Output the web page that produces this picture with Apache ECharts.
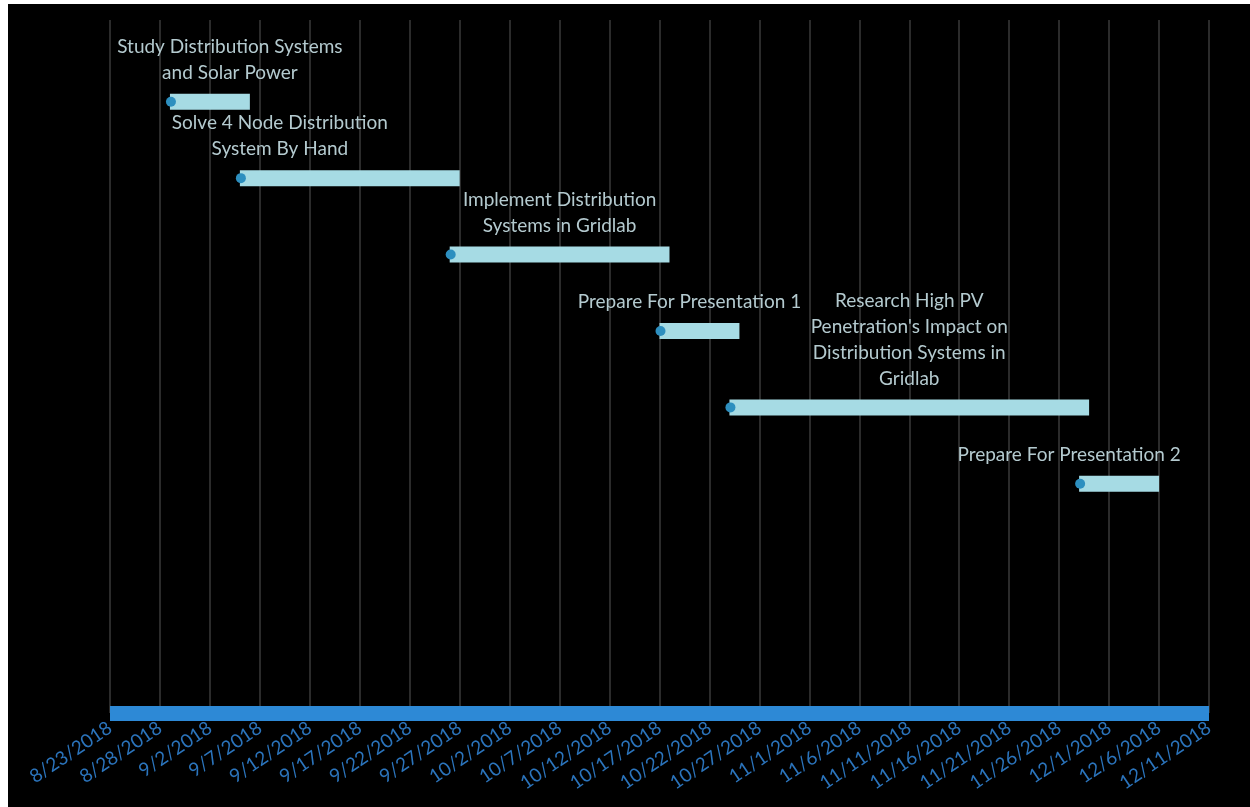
<!DOCTYPE html>
<html>
<head>
<meta charset="utf-8">
<script src="https://cdn.jsdelivr.net/npm/echarts@6/dist/echarts.min.js"></script>
<style>
  html, body { margin: 0; padding: 0; background: #ffffff; }
  #chart { position: absolute; left: 8px; top: 4px; width: 1242px; height: 803px; background: #000000; }
</style>
</head>
<body>
<div id="chart"></div>
<script>
// ---- data ----
const axisStart = '2018-08-23';
const axisEnd = '2018-12-11';
const tickStepDays = 5;
const taskNames = [
  'Study Distribution Systems\nand Solar Power',
  'Solve 4 Node Distribution\nSystem By Hand',
  'Implement Distribution\nSystems in Gridlab',
  'Prepare For Presentation 1',
  "Research High PV\nPenetration's Impact on\nDistribution Systems in\nGridlab",
  'Prepare For Presentation 2'
];
const taskStart = ['2018-08-29', '2018-09-05', '2018-09-26', '2018-10-17', '2018-10-24', '2018-11-28'];
const taskEnd   = ['2018-09-06', '2018-09-27', '2018-10-18', '2018-10-25', '2018-11-29', '2018-12-06'];
const taskLevel = [8, 7, 6, 5, 4, 3];
const labelAnchorDate = ['2018-09-04', '2018-09-09', '2018-10-07', '2018-10-20', '2018-11-11', '2018-11-27'];

// ---- helpers ----
const DAY = 86400000;
const base = Date.parse(axisStart + 'T00:00:00Z');
function dayOffset(s) { return Math.round((Date.parse(s + 'T00:00:00Z') - base) / DAY); }
function fmtDay(d) {
  const dt = new Date(base + d * DAY);
  return (dt.getUTCMonth() + 1) + '/' + dt.getUTCDate() + '/' + dt.getUTCFullYear();
}
const axisMax = dayOffset(axisEnd);

const seriesData = taskNames.map((n, i) => [
  dayOffset(taskStart[i]), dayOffset(taskEnd[i]), taskLevel[i], dayOffset(labelAnchorDate[i]), i
]);

const chart = echarts.init(document.getElementById('chart'));
chart.setOption({
  backgroundColor: '#000000',
  animation: false,
  grid: { left: 102, right: 41, top: 16, bottom: 94 },
  xAxis: {
    type: 'value',
    min: 0,
    max: axisMax,
    interval: tickStepDays,
    axisLine: { show: true, onZero: false, lineStyle: { color: '#2d89d6', width: 15, cap: 'butt' } },
    axisTick: { show: false },
    splitLine: { show: true, lineStyle: { color: '#3a3a3a', width: 1.5 } },
    axisLabel: {
      rotate: 34,
      margin: 13,
      color: '#2b74bc',
      fontFamily: 'Lato',
      fontSize: 19,
      formatter: v => fmtDay(v)
    }
  },
  yAxis: {
    type: 'value',
    min: 0,
    max: 9.07,
    show: false,
    splitLine: { show: false }
  },
  series: [{
    type: 'custom',
    data: seriesData,
    encode: { x: [0, 1, 3], y: 2 },
    renderItem: function (params, api) {
      const s = api.coord([api.value(0), api.value(2)]);
      const e = api.coord([api.value(1), api.value(2)]);
      const a = api.coord([api.value(3), api.value(2)]);
      const idx = api.value(4);
      return {
        type: 'group',
        children: [
          { type: 'rect', shape: { x: s[0], y: s[1] - 8, width: e[0] - s[0], height: 16 },
            style: { fill: '#a6dbe4' } },
          { type: 'circle', shape: { cx: s[0] + 1, cy: s[1], r: 5 },
            style: { fill: '#2d8fbf' } },
          { type: 'text',
            style: { text: taskNames[idx], x: a[0], y: s[1] - 16, align: 'center', verticalAlign: 'bottom',
                     fill: '#b4cacf', fontFamily: 'Lato', fontSize: 19, lineHeight: 26 } }
        ]
      };
    }
  }]
});
</script>
</body>
</html>
